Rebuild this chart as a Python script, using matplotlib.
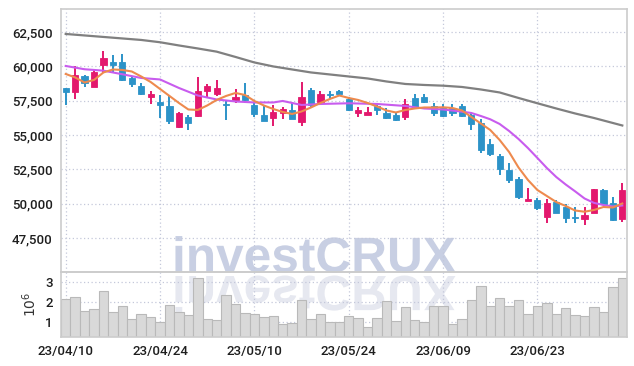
import matplotlib
matplotlib.use("Agg")
import matplotlib.pyplot as plt
import numpy as np
from matplotlib.textpath import TextPath
from matplotlib.patches import PathPatch
from matplotlib.font_manager import FontProperties
from matplotlib.transforms import Affine2D

# daily OHLC (KRW), 60 trading days
opens = [58445, 58154, 59297, 58496, 60098, 60338, 60316, 59129, 58591, 57746,
         57382, 57113, 55606, 56334, 56407, 58227, 58008, 57258, 57571, 57892,
         57186, 56458, 56261, 56581, 56822, 55970, 58278, 57426, 57986, 58227,
         57600, 56581, 56436, 57113, 56625, 56436, 56334, 57673, 57790, 57113,
         56967, 56946, 57113, 56458, 55853, 54346, 53473, 52454, 51798, 50219,
         50270, 49010, 50102, 49782, 49054, 48864, 49345, 50998, 50030, 48864]
highs = [58445, 60047, 59370, 59734, 61117, 60826, 60898, 59246, 58765, 58205,
         57914, 57914, 56698, 56458, 59202, 58693, 59006, 57550, 58314, 58765,
         57309, 57113, 57186, 57062, 57426, 58882, 58445, 58227, 58227, 58278,
         57746, 57062, 57018, 57258, 56946, 56625, 57600, 57986, 57986, 57309,
         57258, 57222, 57258, 56698, 56145, 54689, 53618, 52941, 51966, 51121,
         50394, 50320, 50270, 49978, 49782, 49738, 51100, 51049, 50466, 51529]
lows = [57186, 57622, 58518, 58474, 59493, 59493, 58933, 58518, 57914, 57237,
        56239, 55780, 55533, 55366, 56334, 57673, 57863, 56094, 57331, 57353,
        56334, 56021, 55657, 56145, 56130, 55657, 56946, 57258, 57600, 57914,
        56771, 56334, 56436, 56458, 56145, 56043, 56094, 56873, 57309, 56385,
        56312, 56385, 56290, 55366, 53713, 53473, 52068, 51529, 50320, 50197,
        49542, 48617, 49301, 48617, 48617, 48450, 49300, 49978, 48777, 48690]
closes = [58154, 59370, 58809, 59610, 60585, 60098, 59006, 58693, 57965, 57986,
          57186, 56021, 56581, 55853, 58205, 58569, 58401, 57200, 57768, 57550,
          56530, 56043, 56654, 56894, 56145, 57746, 57186, 57986, 57914, 57986,
          56822, 56822, 56698, 56822, 56261, 56094, 57258, 57062, 57426, 56581,
          56385, 56603, 56385, 55780, 53910, 53618, 52526, 51726, 50510, 50342,
          49709, 50030, 49345, 48981, 48981, 49178, 51070, 50015, 48814, 50998]

# volume in millions of shares
volume = [2.15, 2.23, 1.55, 1.65, 2.55, 1.48, 1.80, 1.15, 1.38, 1.25,
          1.02, 1.85, 1.48, 1.35, 3.22, 1.15, 1.10, 2.35, 1.90, 1.43,
          1.40, 1.27, 1.30, 0.90, 0.93, 2.10, 1.15, 1.38, 1.02, 1.02,
          1.30, 1.18, 0.75, 1.18, 2.05, 1.05, 1.73, 1.10, 1.02, 1.80,
          1.80, 0.88, 1.15, 2.10, 2.80, 1.80, 2.18, 1.80, 2.10, 1.38,
          1.80, 1.93, 1.38, 1.68, 1.35, 1.30, 1.73, 1.48, 2.73, 3.18]

# moving averages
ma_short = [59442, 59188, 58824, 59006, 59552, 59770, 59734, 59624, 59260, 58860,
            58350, 57841, 57331, 56858, 56822, 57149, 57550, 57841, 58060, 57914,
            57477, 57149, 56894, 56676, 56530, 56712, 57004, 57331, 57622, 57877,
            57695, 57550, 57331, 57076, 56785, 56640, 56822, 56931, 57004, 57004,
            57018, 56967, 56785, 56312, 55839, 55366, 54638, 53764, 52636, 51726,
            50998, 50561, 50124, 49833, 49505, 49418, 49542, 49760, 49724, 50015]
ma_mid_idx = [0, 2, 4, 6, 8, 10, 12, 14, 16, 18, 20, 22, 23, 25, 27, 30, 33, 36,
              38, 40, 42, 43, 44, 45, 46, 47, 48, 49, 50, 51, 52, 53, 54, 55, 56,
              57, 58, 59]
ma_mid = [60025, 59785, 59683, 59421, 59151, 59042, 58423, 57877, 57586, 57440,
          57368, 57368, 57477, 57186, 57258, 57309, 57258, 57113, 56931, 56858,
          56698, 56603, 56385, 56145, 55802, 55293, 54710, 54050, 53330, 52600,
          51944, 51398, 50900, 50380, 50060, 49906, 49800, 49870]
ma_long_idx = [0, 4, 8, 10, 12, 14, 16, 18, 20, 22, 24, 26, 28, 30, 32, 34, 36,
               38, 40, 42, 44, 46, 48, 50, 52, 54, 56, 58, 59]
ma_long = [62354, 62136, 61918, 61750, 61517, 61298, 61066, 60680, 60280, 59990,
           59770, 59552, 59406, 59260, 59115, 58896, 58714, 58642, 58590, 58496,
           58314, 58096, 57695, 57310, 56930, 56567, 56239, 55875, 55693]

tick_pos = [0, 10, 20, 30, 40, 50]
tick_labels = ['23/04/10', '23/04/24', '23/05/10', '23/05/24', '23/06/09', '23/06/23']
price_ticks = [47500, 50000, 52500, 55000, 57500, 60000, 62500]

UP = '#e3186d'
DOWN = '#2c93c8'
GRID = '#c4c8da'

plt.rcParams['font.family'] = ['Roboto', 'DejaVu Sans']
plt.rcParams['font.weight'] = 'medium'

W, H = 634, 366
fig = plt.figure(figsize=(W / 100, H / 100), dpi=100)
ax = fig.add_axes([61 / W, 1 - 272 / H, 566 / W, 263 / H])
axv = fig.add_axes([61 / W, 1 - 337 / H, 566 / W, 65 / H], sharex=ax)

for a in (ax, axv):
    a.patch.set_visible(False)
    a.set_axisbelow(True)
    for s in a.spines.values():
        s.set_color('#cccccc')
        s.set_linewidth(1.2)
    a.tick_params(length=0, labelsize=9.5, colors='#1e1e1e', pad=6)
    a.grid(True, color=GRID, linestyle=(0, (1, 2)), linewidth=0.9)

x = np.arange(len(closes))
o = np.array(opens)
c = np.array(closes)
up = c >= o
cols = np.where(up, UP, DOWN)
body_lo = np.minimum(o, c)
body_h = np.maximum(np.abs(c - o), 40)

ax.vlines(x, lows, highs, colors=cols, linewidth=1.4, zorder=3)
ax.bar(x, body_h, bottom=body_lo, width=0.66, color=cols, edgecolor=cols,
       linewidth=0.6, zorder=4)

ax.plot(ma_long_idx, ma_long, color='#808080', linewidth=1.6, zorder=5)
ax.plot(ma_mid_idx, ma_mid, color='#c85cee', linewidth=1.5, zorder=5)
ax.plot(x, ma_short, color='#ee8a4e', linewidth=1.5, zorder=6)

ax.set_ylim(45030, 64170)
ax.set_xlim(-0.5, 59.5)
ax.set_yticks(price_ticks)
ax.set_yticklabels([f'{v:,}' for v in price_ticks])
ax.tick_params(axis='x', labelbottom=False)

axv.bar(x, volume, width=1.0, color='#d9d9d9', edgecolor='#b9b9b9',
        linewidth=0.8, zorder=2)
axv.set_ylim(0.25, 3.5)
axv.set_yticks([1, 2, 3])
axv.set_xticks(tick_pos)
axv.set_xticklabels(tick_labels, fontsize=9.5)
axv.set_ylabel(r'$10^6$', fontsize=10, color='#333333', labelpad=4)

# watermark with its reflection
fp = FontProperties(family='Liberation Sans', weight='bold')
tp = TextPath((0, 0), 'investCRUX', size=49.6, prop=fp)
px = Affine2D().scale(1 / W, 1 / H) + fig.transFigure
fig.add_artist(PathPatch(tp, transform=Affine2D().translate(172, H - 272) + px,
                         facecolor='#c8cfe3', edgecolor='none', zorder=-1))
fig.add_artist(PathPatch(tp, transform=Affine2D().scale(1, -1).translate(172, H - 276) + px,
                         facecolor='#e6e8f0', edgecolor='none', zorder=-1))

fig.savefig('out.png', dpi=100)
